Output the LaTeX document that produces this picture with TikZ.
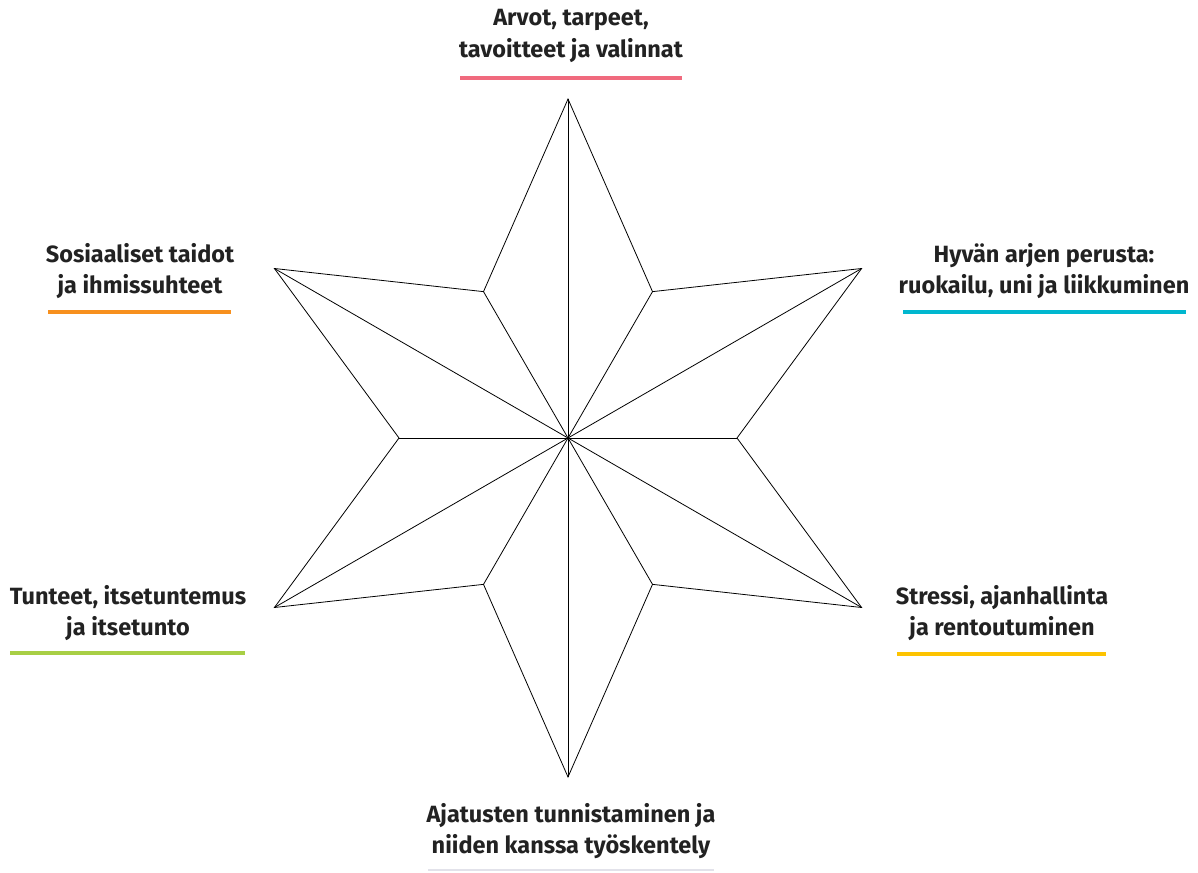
\documentclass[tikz,border=0pt]{standalone}
\usepackage{fontspec}
\setmainfont{Fira Sans}
\usetikzlibrary{calc}
\definecolor{txt}{HTML}{222222}
\definecolor{cpink}{HTML}{F06A7E}
\definecolor{corange}{HTML}{F7901E}
\definecolor{ccyan}{HTML}{00B7CF}
\definecolor{cgreen}{HTML}{A8CF45}
\definecolor{cyellow}{HTML}{FDC300}
\definecolor{cgrey}{HTML}{E2E2EA}
\begin{document}
\begin{tikzpicture}[x=1pt,y=-1pt,
  lbl/.style={align=center,font=\fontsize{23.5}{31.5}\selectfont\bfseries,text=txt,inner sep=0pt},
  uline/.style={line width=4pt},
  starline/.style={line width=0.8pt,black,line join=miter}]
\useasboundingbox[fill=white] (0,0) rectangle (1198,872);
\coordinate (c) at (568,438);
\foreach \i/\a in {1/-90,2/-30,3/30,4/90,5/150,6/210}{
  \coordinate (o\i) at ($(c)+(\a:339)$);
}
\foreach \i/\a in {1/-60,2/0,3/60,4/120,5/180,6/240}{
  \coordinate (n\i) at ($(c)+(\a:169)$);
}
\draw[starline] (o1)--(n1)--(o2)--(n2)--(o3)--(n3)--(o4)--(n4)--(o5)--(n5)--(o6)--(n6)--cycle;
\foreach \i in {1,...,6}{
  \draw[starline] (c)--(o\i);
  \draw[starline] (c)--(n\i);
}
% labels
\node[lbl] (t1) at (571,36) {Arvot, tarpeet,\\tavoitteet ja valinnat};
\draw[uline,cpink] (460,78) -- (682,78);
\node[lbl] (t2) at (140,271) {Sosiaaliset taidot\\ja ihmissuhteet};
\draw[uline,corange] (48,312) -- (231,312);
\node[lbl] (t3) at (1044,271) {Hyvän arjen perusta:\\ruokailu, uni ja liikkuminen};
\draw[uline,ccyan] (903,312) -- (1186,312);
\node[lbl] (t4) at (128,613) {Tunteet, itsetuntemus\\ja itsetunto};
\draw[uline,cgreen] (10,653) -- (245,653);
\node[lbl] (t5) at (1002,613) {Stressi, ajanhallinta\\ja rentoutuminen};
\draw[uline,cyellow] (897,654) -- (1106,654);
\node[lbl] (t6) at (571,831) {Ajatusten tunnistaminen ja\\niiden kanssa työskentely};
\draw[line width=1.5pt,cgrey] (428,870) -- (714,870);
\end{tikzpicture}
\end{document}
